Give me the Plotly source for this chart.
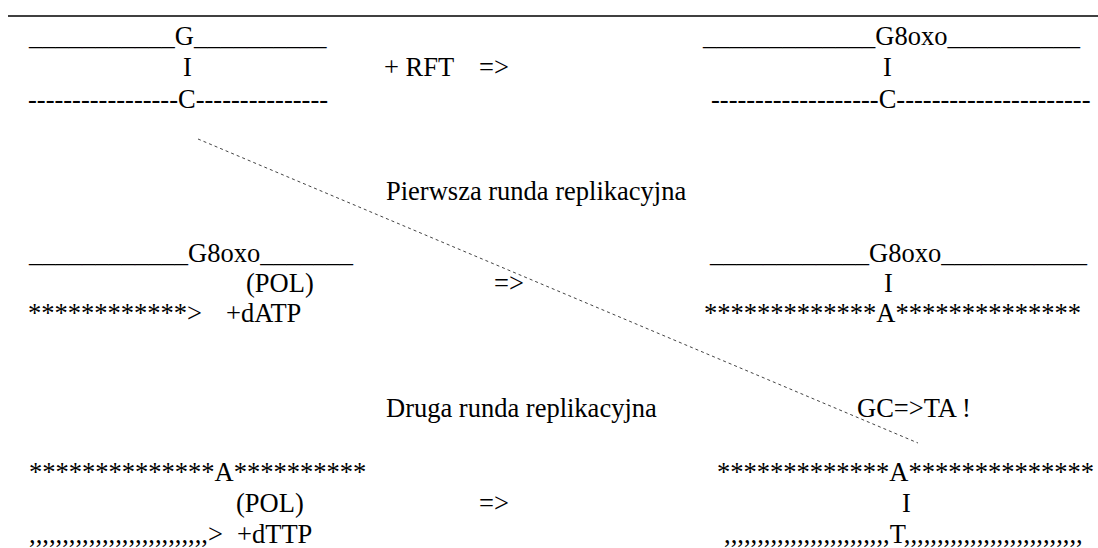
import plotly.graph_objects as go

W, H = 1098, 548
FONT = "Liberation Serif, Times New Roman, serif"
FS = 26.5

# ---- text content of the diagram (one entry per text piece) ----
texts = [
    # first block: G:C pair + RFT => G8oxo:C
    "_" * 11 + "G" + "_" * 10,
    "I",
    "-" * 17 + "C" + "-" * 15,
    "+ RFT",
    "=>",
    "_" * 13 + "G8oxo" + "_" * 10,
    "I",
    "-" * 19 + "C" + "-" * 22,
    # first replication round
    "Pierwsza runda replikacyjna",
    "_" * 12 + "G8oxo" + "_" * 7,
    "(POL)",
    "*" * 12 + ">",
    "+dATP",
    "=>",
    "_" * 12 + "G8oxo" + "_" * 11,
    "I",
    "*" * 13 + "A" + "*" * 14,
    # second replication round
    "Druga runda replikacyjna",
    "GC=>TA !",
    "*" * 14 + "A" + "*" * 10,
    "(POL)",
    "," * 27 + ">",
    "+dTTP",
    "=>",
    "*" * 13 + "A" + "*" * 14,
    "I",
    "," * 25 + "T" + "," * 27,
]

# ---- layout: left edge and baseline (pixels) of each text piece ----
text_left = [
    27, 182, 27, 383, 478, 701, 882, 710,
    385, 27, 245, 27, 225, 493, 708, 883, 703,
    385, 856, 28, 235, 28, 236, 478, 716, 901, 723,
]
text_baseline = [
    45, 76.5, 108, 76.5, 76.5, 45, 76.5, 108,
    200, 262, 292, 322, 322, 292, 262, 292, 322,
    417, 417, 481, 512, 543, 543, 512, 481, 512, 543,
]

# rule across the top and the dotted connector
rule_x = [8, 1098]
rule_y = [16, 16]
connector_x = [198, 918]
connector_y = [139, 443]

fig = go.Figure()

fig.add_trace(go.Scatter(
    x=rule_x, y=rule_y, mode="lines",
    line=dict(color="black", width=1.5),
    hoverinfo="skip", showlegend=False,
))
fig.add_trace(go.Scatter(
    x=connector_x, y=connector_y, mode="lines",
    line=dict(color="#444444", width=1, dash="dot"),
    hoverinfo="skip", showlegend=False,
))

for t, xl, yb in zip(texts, text_left, text_baseline):
    fig.add_annotation(
        x=xl, y=yb - 0.34 * FS, xref="x", yref="y",
        text=t, showarrow=False, xanchor="left", yanchor="middle",
        font=dict(family=FONT, size=FS, color="black"),
        borderpad=0,
    )

fig.update_xaxes(range=[0, W], visible=False, fixedrange=True)
fig.update_yaxes(range=[H, 0], visible=False, fixedrange=True)
fig.update_layout(
    width=W, height=H,
    margin=dict(l=0, r=0, t=0, b=0),
    paper_bgcolor="white", plot_bgcolor="white",
    showlegend=False,
)

fig.write_html(
    "out.html",
    config={"displayModeBar": False},
    post_script="document.body.style.margin='0';document.body.style.overflow='hidden';",
)
